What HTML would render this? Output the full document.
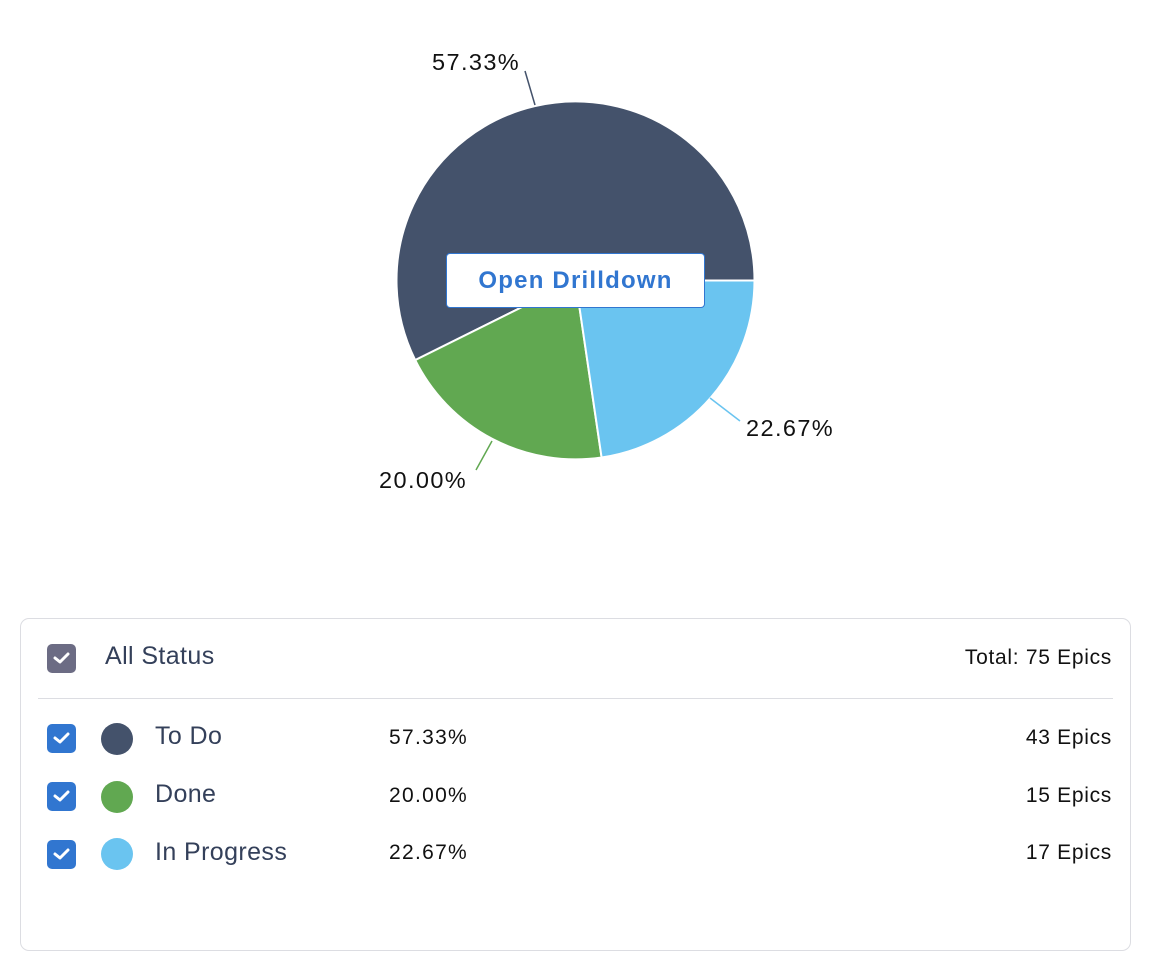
<!DOCTYPE html>
<html><head><style>
body{margin:0;width:1158px;height:968px;background:#fff;font-family:"Liberation Sans",sans-serif;position:relative;overflow:hidden}
.abs{position:absolute}
.cb{position:absolute;width:29px;height:29px;border-radius:5px;background:#3176d0}
.cb svg{position:absolute;left:6px;top:7px}
.dot{position:absolute;width:32px;height:32px;border-radius:50%}
.lbl{position:absolute;font-size:25px;color:#34405a;letter-spacing:0.4px}
.pct{position:absolute;font-size:21px;color:#111;letter-spacing:1.3px}
.ep{position:absolute;right:46px;font-size:21px;color:#111;letter-spacing:0.7px}
</style></head><body>
<svg class="abs" style="left:0;top:0" width="1158" height="600">
<path d="M575.5,280.5 L754.5,280.5 A179,179 0 1 0 415.2,360.1 Z" fill="#44526b" stroke="#fff" stroke-width="2"/>
<path d="M575.5,280.5 L415.2,360.1 A179,179 0 0 0 601.6,457.5 Z" fill="#61a851" stroke="#fff" stroke-width="2"/>
<path d="M575.5,280.5 L601.6,457.5 A179,179 0 0 0 754.5,280.5 Z" fill="#6ac4f0" stroke="#fff" stroke-width="2"/>
<line x1="535" y1="105" x2="525" y2="71" stroke="#44526b" stroke-width="1.5"/>
<line x1="710" y1="398" x2="740" y2="421" stroke="#6ac4f0" stroke-width="1.5"/>
<line x1="492" y1="441" x2="476" y2="470" stroke="#61a851" stroke-width="1.5"/>
<text x="432" y="70" font-size="23.5" fill="#111" font-family="Liberation Sans" letter-spacing="1.4">57.33%</text>
<text x="746" y="436" font-size="23.5" fill="#111" font-family="Liberation Sans" letter-spacing="1.4">22.67%</text>
<text x="379" y="488" font-size="23.5" fill="#111" font-family="Liberation Sans" letter-spacing="1.4">20.00%</text>
</svg>
<div class="abs" style="left:446px;top:253px;width:259px;height:55px;background:#fff;border:1px solid #3176d0;border-radius:4px;box-sizing:border-box;color:#3176d0;font-weight:bold;font-size:24px;text-align:center;line-height:53px;letter-spacing:1.2px">Open Drilldown</div>
<div class="abs" style="left:20px;top:618px;width:1111px;height:333px;border:1px solid #dcdde2;border-radius:9px;box-sizing:border-box"></div>
<div class="cb" style="left:47px;top:644px;background:#6c6c84"><svg width="17" height="14"><path d="M2,7 L7,11 L15,3" stroke="#fff" stroke-width="3" fill="none" stroke-linecap="round" stroke-linejoin="round"/></svg></div>
<div class="lbl" style="left:105px;top:642px">All Status</div>
<div class="ep" style="top:646px">Total: 75 Epics</div>
<div class="abs" style="left:38px;top:698px;width:1075px;height:1px;background:#dcdde2"></div>

<div class="cb" style="left:47px;top:724px"><svg width="17" height="14"><path d="M2,7 L7,11 L15,3" stroke="#fff" stroke-width="3" fill="none" stroke-linecap="round" stroke-linejoin="round"/></svg></div>
<div class="dot" style="left:101px;top:723px;background:#44526b"></div>
<div class="lbl" style="left:155px;top:722px">To Do</div>
<div class="pct" style="left:389px;top:726px">57.33%</div>
<div class="ep" style="top:726px">43 Epics</div>

<div class="cb" style="left:47px;top:782px"><svg width="17" height="14"><path d="M2,7 L7,11 L15,3" stroke="#fff" stroke-width="3" fill="none" stroke-linecap="round" stroke-linejoin="round"/></svg></div>
<div class="dot" style="left:101px;top:781px;background:#61a851"></div>
<div class="lbl" style="left:155px;top:780px">Done</div>
<div class="pct" style="left:389px;top:784px">20.00%</div>
<div class="ep" style="top:784px">15 Epics</div>

<div class="cb" style="left:47px;top:840px"><svg width="17" height="14"><path d="M2,7 L7,11 L15,3" stroke="#fff" stroke-width="3" fill="none" stroke-linecap="round" stroke-linejoin="round"/></svg></div>
<div class="dot" style="left:101px;top:838px;background:#6ac4f0"></div>
<div class="lbl" style="left:155px;top:838px">In Progress</div>
<div class="pct" style="left:389px;top:841px">22.67%</div>
<div class="ep" style="top:841px">17 Epics</div>
</body></html>
